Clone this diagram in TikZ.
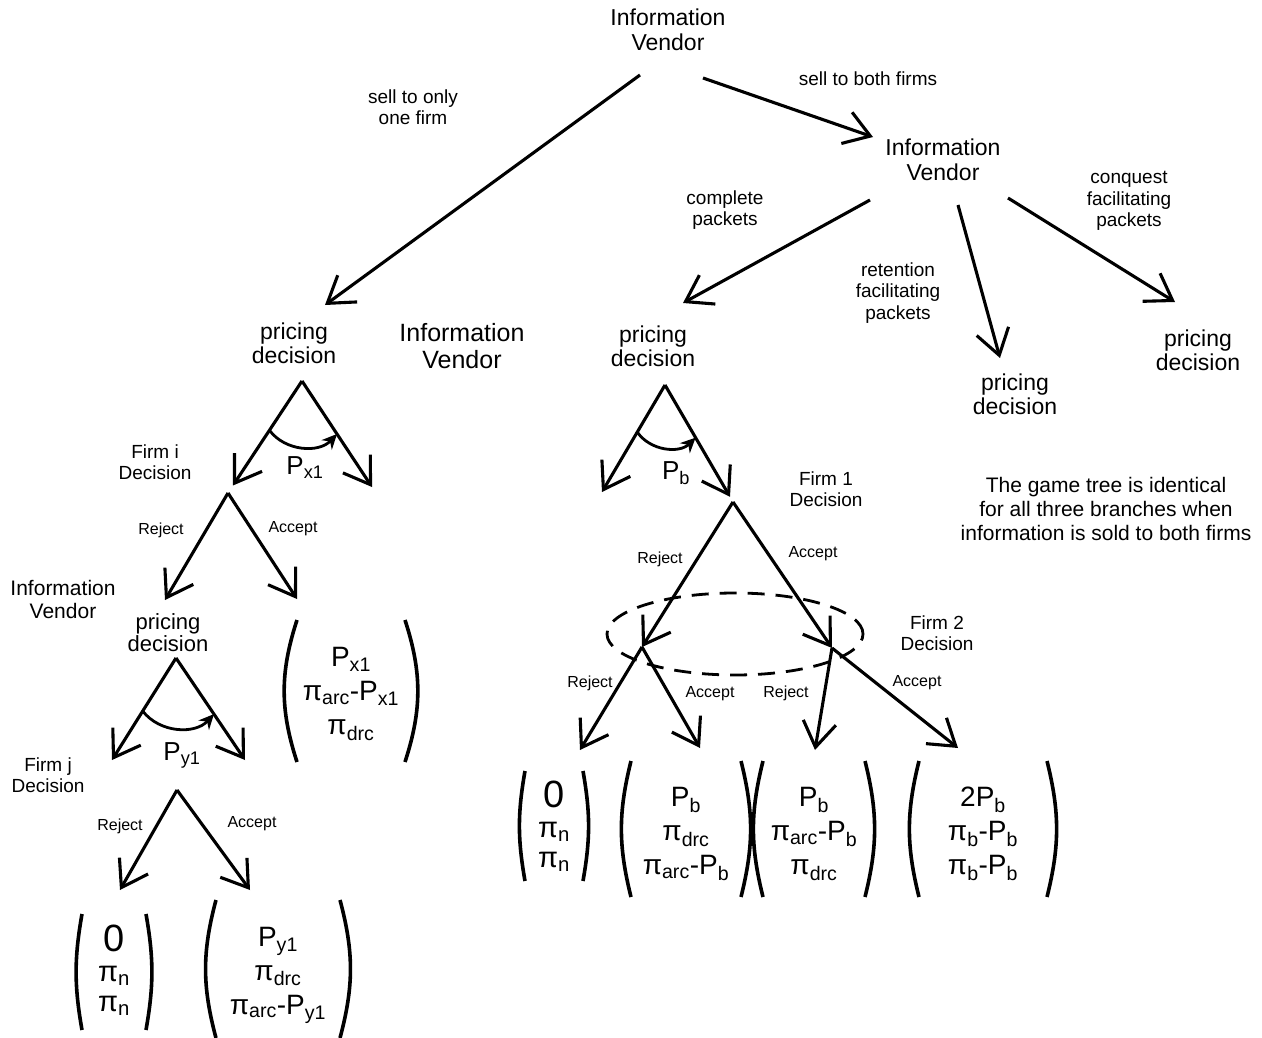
\documentclass[tikz,border=0pt]{standalone}
\usepackage{fontspec}
\setmainfont{Liberation Sans}
\usetikzlibrary{arrows.meta,calc}

\begin{document}
\begin{tikzpicture}[
        x=1pt, y=-1pt,
        every node/.style={align=center},
        vendor/.style={font=\fontsize{23}{25}\selectfont},
        pricing/.style={font=\fontsize{23}{24}\selectfont},
        move/.style={font=\fontsize{19}{21.5}\selectfont},
        firm/.style={font=\fontsize{19}{20.5}\selectfont},
        resp/.style={font=\fontsize{16}{18}\selectfont},
        pvar/.style={font=\fontsize{26}{28}\selectfont},
        payoff/.style={font=\fontsize{28}{34}\selectfont},
        nullpay/.style={font=\fontsize{29}{30}\selectfont},
        branch/.style={line width=3.1pt, -{Straight Barb[length=25pt,width=33pt]}},
        price/.style={line width=2.8pt, -{Stealth[length=15pt,width=14pt]}},
        paren/.style={line width=3.6pt},
        infoset/.style={line width=2.8pt, dash pattern=on 17pt off 11pt}
    ]
    \useasboundingbox (0,0) rectangle (1262,1038);

    % Vendor chooses whether to sell to one firm or both
    \node[vendor] (iv0) at (668,30) {Information\\Vendor};
    \node[vendor] (iv1) at (943,160) {Information\\Vendor};
    \node[move] (only) at (413,107) {sell to only\\one firm};
    \node[move] (both) at (868,79) {sell to both firms};

    % Pricing decisions
    \node[pricing] (pd1) at (294,343) {pricing\\decision};
    \node[vendor, font=\fontsize{25}{27}\selectfont] (ivm) at (462,346) {Information\\Vendor};
    \node[pricing] (pd2) at (653,346) {pricing\\decision};
    \node[pricing] (pd3) at (1015,394) {pricing\\decision};
    \node[pricing] (pd4) at (1198,350) {pricing\\decision};
    \node[move] (comp) at (725,210) {complete\\packets};
    \node[move] (ret) at (898,293) {retention\\facilitating\\packets};
    \node[move] (conq) at (1129,201) {conquest\\facilitating\\packets};

    \draw[branch] ([shift={(-28,45)}]iv0.center) -- ([shift={(31,-38)}]pd1.center);
    \draw[branch] ([shift={(35,48)}]iv0.center) -- ([shift={(-70,-23)}]iv1.center);
    \draw[branch] ([shift={(-73,40)}]iv1.center) -- ([shift={(30,-43)}]pd2.center);
    \draw[branch] ([shift={(15,45)}]iv1.center) -- ([shift={(-15,-36)}]pd3.center);
    \draw[branch] ([shift={(65,38)}]iv1.center) -- ([shift={(-23,-48)}]pd4.center);

    % Selling to only one firm
    \coordinate (a1) at (302,381);
    \coordinate (f1) at (228,493);
    \coordinate (t1) at (372,487);
    \draw[branch, shorten >=9pt] (a1) -- (f1);
    \draw[branch] (a1) -- (t1);
    \draw[price] ($(a1)!0.44!(f1)$) to[bend right=50] ($(a1)!0.5!(t1)$);
    \node[pvar] (px1) at (305,468) {P\textsubscript{x1}};

    \node[firm] (fi) at (155,462) {Firm i\\Decision};
    \node[vendor, font=\fontsize{21}{23}\selectfont] (ivl) at (63,599) {Information\\Vendor};
    \node[pricing, font=\fontsize{22}{22}\selectfont] (pd5) at (168,633) {pricing\\decision};
    \node[payoff] (pay1) at (351,694) {P\textsubscript{x1}\\π\textsubscript{arc}-P\textsubscript{x1}\\π\textsubscript{drc}};
    \coordinate (t2) at (297,599);
    \draw[branch] (f1) -- ([shift={(-3,-33)}]pd5.center);
    \draw[branch] (f1) -- (t2);
    \node[resp] (rej1) at (161,530) {Reject};
    \node[resp] (acc1) at (293,529) {Accept};

    \coordinate (a2) at (176,658);
    \coordinate (t3) at (112,760);
    \coordinate (t4) at (245,760);
    \draw[branch] (a2) -- (t3);
    \draw[branch] (a2) -- (t4);
    \draw[price] ($(a2)!0.52!(t3)$) to[bend right=50] ($(a2)!0.55!(t4)$);
    \node[pvar] (py1) at (182,755) {P\textsubscript{y1}};

    \node[firm] (fj) at (48,775) {Firm j\\Decision};
    \coordinate (f2) at (177,790);
    \coordinate (t5) at (120,890);
    \coordinate (t6) at (250,890);
    \draw[branch] (f2) -- (t5);
    \draw[branch] (f2) -- (t6);
    \node[resp] (rej2) at (120,826) {Reject};
    \node[resp] (acc2) at (252,824) {Accept};
    \node[nullpay] (pay2) at (114,970) {{\fontsize{38}{30}\selectfont 0}\\π\textsubscript{n}\\π\textsubscript{n}};
    \node[payoff] (pay3) at (278,975) {P\textsubscript{y1}\\π\textsubscript{drc}\\π\textsubscript{arc}-P\textsubscript{y1}};

    % Selling to both firms
    \coordinate (a3) at (665,385);
    \coordinate (t7) at (602,492);
    \coordinate (f3) at (733,502);
    \draw[branch] (a3) -- (t7);
    \draw[branch, shorten >=6pt] (a3) -- (f3);
    \draw[price] ($(a3)!0.44!(t7)$) to[bend right=50] ($(a3)!0.45!(f3)$);
    \node[pvar] (pb) at (676,473) {P\textsubscript{b}};

    \node[firm] (fd1) at (826,489) {Firm 1\\Decision};
    \coordinate (n1) at (642,647);
    \coordinate (n2) at (832,648);
    \draw[branch] (f3) -- (n1);
    \draw[branch] (f3) -- (n2);
    \node[resp] (rej3) at (660,559) {Reject};
    \node[resp] (acc3) at (813,554) {Accept};
    \draw[infoset] (735,634) ellipse [x radius=128pt, y radius=41pt];
    \node[firm] (fd2) at (937,633) {Firm 2\\Decision};

    \coordinate (t8) at (580,750);
    \coordinate (t9) at (700,748);
    \coordinate (t10) at (815,750);
    \coordinate (t11) at (958,748);
    \draw[branch] (n1) -- (t8);
    \draw[branch] (n1) -- (t9);
    \draw[branch] (n2) -- (t10);
    \draw[branch] (n2) -- (t11);
    \node[resp] (rej4) at (590,683) {Reject};
    \node[resp] (acc4) at (710,694) {Accept};
    \node[resp] (rej5) at (786,693) {Reject};
    \node[resp] (acc5) at (917,683) {Accept};

    \node[nullpay] (pay4) at (554,826) {{\fontsize{38}{30}\selectfont 0}\\π\textsubscript{n}\\π\textsubscript{n}};
    \node[payoff] (pay5) at (686,834) {P\textsubscript{b}\\π\textsubscript{drc}\\π\textsubscript{arc}-P\textsubscript{b}};
    \node[payoff] (pay6) at (814,834) {P\textsubscript{b}\\π\textsubscript{arc}-P\textsubscript{b}\\π\textsubscript{drc}};
    \node[payoff] (pay7) at (983,834) {2P\textsubscript{b}\\π\textsubscript{b}-P\textsubscript{b}\\π\textsubscript{b}-P\textsubscript{b}};

    % Brackets round the payoff vectors
    \foreach \p/\w/\h/\b/\dy in {pay1/54/71/18/-3, pay2/32/58/10/2, pay3/62/69/15/-6, pay4/29/55/10/0,
                                 pay5/55/68/14/-5, pay6/51/68/14/-5, pay7/64/68/14/-5}{
        \draw[paren] ([shift={(-\w,-\h+\dy)}]\p.center) to[bend right=\b] ([shift={(-\w,\h+\dy)}]\p.center);
        \draw[paren] ([shift={(\w,-\h+\dy)}]\p.center) to[bend left=\b] ([shift={(\w,\h+\dy)}]\p.center);
    }

    \node[font=\fontsize{21}{24}\selectfont] (note) at (1106,509)
        {The game tree is identical\\for all three branches when\\information is sold to both firms};

\end{tikzpicture}
\end{document}
